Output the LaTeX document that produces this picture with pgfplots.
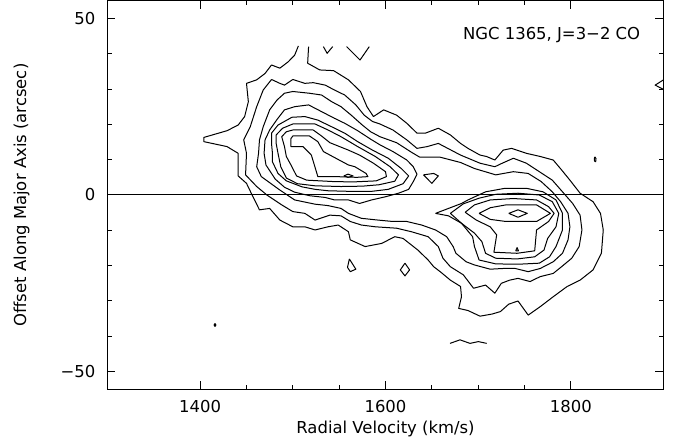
\documentclass[border=0pt]{standalone}
\usepackage{fontspec}
\setmainfont{DejaVu Sans}
\usepackage{pgfplots}
\pgfplotsset{compat=1.18}
\begin{document}
\begin{tikzpicture}[font=\fontsize{16.5}{19}\selectfont]
\path[use as bounding box] (-107.5bp,-53.7bp) rectangle (568.5bp,389.3bp);
\begin{axis}[
  at={(0,0)}, anchor=south west,
  scale only axis, width=556bp, height=388.6bp,
  xmin=1300, xmax=1900, ymin=-55, ymax=55,
  xtick={1400,1600,1800}, xticklabels={1400,1600,1800},
  ytick={-50,0,50}, yticklabels={−50,0,50},
  minor x tick num=3, minor y tick num=4,
  major tick length=8bp, minor tick length=4.5bp,
  tick style={black, line width=1pt},
  axis line style={black, line width=1.1pt},
  xticklabel style={anchor=north, inner sep=0pt, yshift=-10.5bp},
  yticklabel style={anchor=east, inner sep=0pt, xshift=-12bp},
  xlabel={Radial Velocity (km/s)},
  ylabel={Offset Along Major Axis (arcsec)},
  xlabel style={at={(axis description cs:0.5,0)}, anchor=north, inner sep=0pt, yshift=-32bp},
  ylabel style={at={(axis description cs:-0.140,0.5)}, anchor=south, inner sep=0pt},
  ct/.style={black, line width=1bp, mark=none, line join=round},
  clip=true,
]
% zero line
\addplot[ct] coordinates {(1300,0) (1900,0)};
% level 1 (open at the top of the observed strip)
\addplot[ct] coordinates {(1506,42.2) (1502,39.6) (1495,37.7) (1486,35.9) (1477,36.8) (1470,34.4) (1461,32.6) (1450,31.6) (1452,26.4) (1448,22.2) (1441,19.8) (1429,18.2) (1404,16.3) (1404,15.1) (1429,13.7) (1441,11.8) (1441,5.4) (1450,3.3) (1457,-0.5) (1464,-4.2) (1475,-3.8) (1486,-7.1) (1500,-9.0) (1513,-9.0) (1524,-9.9) (1538,-9.0) (1549,-8.5) (1560,-10.4) (1562,-12.7) (1578,-14.6) (1596,-13.7) (1610,-11.8) (1619,-12.3) (1635,-15.6) (1646,-18.4) (1652,-20.3) (1659,-21.7) (1670,-24.1) (1681,-25.9) (1682,-28.8) (1679,-32.1) (1689,-32.7) (1702,-34.3) (1715,-33.7) (1724,-33.0) (1733,-30.9) (1743,-30.0) (1754,-34.0) (1767,-31.6) (1781,-28.8) (1796,-25.9) (1810,-24.1) (1824,-21.2) (1833,-16.5) (1835,-9.9) (1832,-5.2) (1824,-1.9) (1810,0.5) (1799,4.2) (1790,7.1) (1781,9.9) (1767,10.9) (1752,11.8) (1736,13.2) (1727,12.7) (1718,9.9) (1709,10.9) (1702,11.3) (1689,13.2) (1681,14.6) (1670,17.0) (1657,18.9) (1643,17.5) (1634,17.5) (1623,20.3) (1612,22.6) (1598,24.1) (1587,22.2) (1580,25.0) (1573,29.3) (1560,32.6) (1544,35.2) (1529,35.4) (1516,37.3) (1517,42.0)};
% level 2
\addplot[ct] coordinates {(1477,32.7) (1468,29.7) (1461,25.0) (1454,19.3) (1447,15.6) (1450,11.8) (1449,5.7) (1461,2.4) (1472,0.0) (1488,-2.8) (1500,-4.7) (1513,-5.2) (1524,-7.1) (1540,-5.7) (1552,-5.9) (1562,-7.5) (1574,-8.5) (1589,-9.0) (1612,-9.4) (1628,-10.4) (1646,-11.8) (1657,-14.6) (1662,-17.9) (1670,-20.3) (1684,-22.6) (1695,-26.4) (1708,-25.5) (1718,-27.8) (1725,-25.0) (1734,-24.1) (1743,-23.6) (1756,-24.5) (1767,-23.1) (1781,-22.2) (1790,-20.3) (1801,-17.9) (1809,-14.6) (1812,-9.9) (1810,-5.7) (1802,-2.4) (1791,0.9) (1780,4.2) (1766,6.6) (1752,9.0) (1738,10.4) (1726,9.0) (1718,8.0) (1702,9.0) (1681,11.3) (1657,14.6) (1645,13.7) (1634,13.2) (1623,15.6) (1608,18.4) (1594,20.1) (1586,20.8) (1577,22.6) (1568,25.5) (1556,28.3) (1545,29.7) (1535,31.1) (1522,31.8) (1513,31.6) (1500,32.7) (1491,31.1) (1486,31.6) (1477,32.7)};
% level 3
\addplot[ct] coordinates {(1491,28.8) (1483,26.9) (1475,24.1) (1468,19.3) (1464,15.6) (1463,11.8) (1461,8.0) (1466,5.2) (1486,1.4) (1502,-1.4) (1524,-2.6) (1538,-3.0) (1552,-3.8) (1560,-5.2) (1574,-6.6) (1592,-7.1) (1608,-7.5) (1623,-7.5) (1639,-8.5) (1654,-9.9) (1666,-11.8) (1673,-14.6) (1676,-16.5) (1687,-18.9) (1696,-19.8) (1713,-21.0) (1727,-20.8) (1740,-20.8) (1754,-21.7) (1767,-20.8) (1781,-18.9) (1791,-16.5) (1797,-12.7) (1799,-9.0) (1797,-5.2) (1789,-1.9) (1780,0.9) (1768,3.8) (1754,6.1) (1738,6.6) (1719,5.7) (1696,7.5) (1681,9.2) (1659,10.7) (1637,10.7) (1628,12.1) (1612,14.8) (1594,16.5) (1584,17.9) (1575,19.8) (1563,22.6) (1552,25.0) (1542,26.4) (1531,28.3) (1518,28.8) (1500,29.3) (1491,28.8)};
% upper-left peak, levels 4-9
\addplot[ct] coordinates {(1470,15.6) (1475,18.4) (1483,21.4) (1491,24.1) (1502,25.0) (1517,25.5) (1531,23.6) (1545,21.7) (1556,20.3) (1570,18.2) (1584,15.8) (1594,14.2) (1608,12.3) (1623,9.9) (1630,8.0) (1634,5.9) (1630,3.8) (1625,1.6) (1614,0.5) (1600,-0.5) (1585,-1.4) (1572,-2.4) (1560,-1.4) (1545,-1.4) (1535,-0.7) (1518,-0.2) (1502,0.8) (1491,2.2) (1481,4.5) (1471,8.5) (1469,11.8) (1470,15.6)};
\addplot[ct] coordinates {(1477,17.5) (1484,19.8) (1499,22.0) (1513,22.2) (1527,21.2) (1542,19.3) (1556,17.5) (1570,15.1) (1586,12.7) (1603,10.4) (1617,7.5) (1625,5.4) (1619,3.2) (1603,1.6) (1584,1.0) (1566,1.0) (1538,1.2) (1524,1.6) (1510,2.3) (1493,4.0) (1484,6.1) (1478,9.4) (1478,11.8) (1477,14.6) (1477,17.5)};
\addplot[ct] coordinates {(1482,17.0) (1489,18.9) (1500,20.1) (1524,20.1) (1538,18.4) (1552,16.5) (1570,13.7) (1589,10.9) (1605,8.0) (1614,5.7) (1610,3.9) (1593,2.9) (1575,2.5) (1552,2.4) (1524,2.6) (1505,3.2) (1493,4.8) (1487,8.0) (1484,11.8) (1482,14.6) (1482,17.0)};
\addplot[ct] coordinates {(1488,16.5) (1493,17.9) (1500,18.4) (1522,18.4) (1531,16.7) (1540,14.8) (1560,12.7) (1572,11.3) (1587,9.0) (1600,6.6) (1601,5.2) (1590,4.0) (1565,3.7) (1544,3.8) (1515,4.2) (1504,5.4) (1499,8.0) (1493,10.9) (1491,13.7) (1488,16.5)};
\addplot[ct] coordinates {(1498,16.0) (1500,16.7) (1518,16.7) (1527,15.1) (1533,12.3) (1540,11.3) (1560,8.5) (1567,8.0) (1579,6.1) (1581,5.2) (1569,5.0) (1547,5.2) (1527,5.2) (1520,11.3) (1511,13.7) (1498,13.7) (1498,16.0)};
\addplot[ct] coordinates {(1555,5.4) (1559.5,5.9) (1565,5.4) (1559.5,5.0) (1555,5.4)};
% lower-right peak, levels 4-9
\addplot[ct] coordinates {(1654,-5.2) (1664,-4.2) (1673,-3.3) (1682,-2.4) (1689,-1.4) (1708,0.9) (1729,1.9) (1752,1.9) (1770,0.9) (1784,-1.4) (1791,-5.2) (1791,-9.9) (1784,-14.6) (1777,-17.5) (1766,-19.3) (1743,-19.6) (1719,-19.5) (1701,-18.4) (1696,-14.6) (1694,-11.8) (1682,-8.0) (1668,-5.9) (1654,-5.2)};
\addplot[ct] coordinates {(1670,-5.2) (1684,-2.5) (1701,-0.9) (1719,0.2) (1743,0.5) (1766,0.0) (1780,-1.9) (1787,-5.2) (1784,-9.0) (1775,-12.3) (1771,-15.6) (1761,-17.5) (1742,-18.1) (1719,-17.9) (1708,-16.5) (1704,-13.2) (1696,-10.8) (1682,-8.0) (1670,-5.2)};
\addplot[ct] coordinates {(1686,-4.9) (1696,-2.8) (1713,-1.4) (1738,-1.0) (1763,-1.4) (1776,-3.3) (1782,-5.2) (1776,-7.5) (1763,-9.9) (1761,-15.8) (1742,-16.5) (1717,-16.2) (1720,-11.3) (1713,-9.0) (1698,-7.1) (1686,-4.9)};
\addplot[ct] coordinates {(1701,-5.2) (1713,-3.6) (1730,-2.8) (1763,-2.8) (1778,-5.2) (1763,-7.5) (1730,-7.5) (1713,-6.9) (1701,-5.2)};
\addplot[ct] coordinates {(1733,-5.2) (1743,-4.2) (1753,-5.2) (1743,-6.3) (1733,-5.2)};
\addplot[ct] coordinates {(1740.5,-15.8) (1742,-14.9) (1743.5,-15.8) (1740.5,-15.8)};
% small isolated contours
\addplot[ct] coordinates {(1641,5.7) (1652,6.1) (1657,5.4) (1650,3.3) (1641,5.7)};
\addplot[ct] coordinates {(1561,-18.1) (1559,-20.5) (1562,-21.7) (1568,-21.0) (1561,-18.1)};
\addplot[ct] coordinates {(1621,-19.3) (1616,-21.2) (1621,-22.9) (1626,-21.2) (1621,-19.3)};
\addplot[ct] coordinates {(1415,-36.8) (1416,-36.4) (1417,-36.8) (1416,-37.2) (1415,-36.8)};
\addplot[ct] coordinates {(1826,10.8) (1827.2,10.3) (1826.8,9.4) (1825.6,9.6) (1825.3,10.3) (1826,10.8)};
\addplot[ct] coordinates {(1900,32.6) (1891,31.1) (1900,29.9)};
\addplot[ct] coordinates {(1533,42.0) (1537,40.1) (1543,42.0)};
\addplot[ct] coordinates {(1558,42.0) (1572.5,38.2) (1582.5,42.0)};
\addplot[ct] coordinates {(1669.6,-42.0) (1680.4,-41.0) (1691.2,-42.0) (1700.2,-41.5) (1709.2,-42.0)};
\node[anchor=base east, inner sep=0pt] at (axis cs:1875,43.9) {NGC 1365, J=3−2 CO};
\end{axis}
\end{tikzpicture}
\end{document}
